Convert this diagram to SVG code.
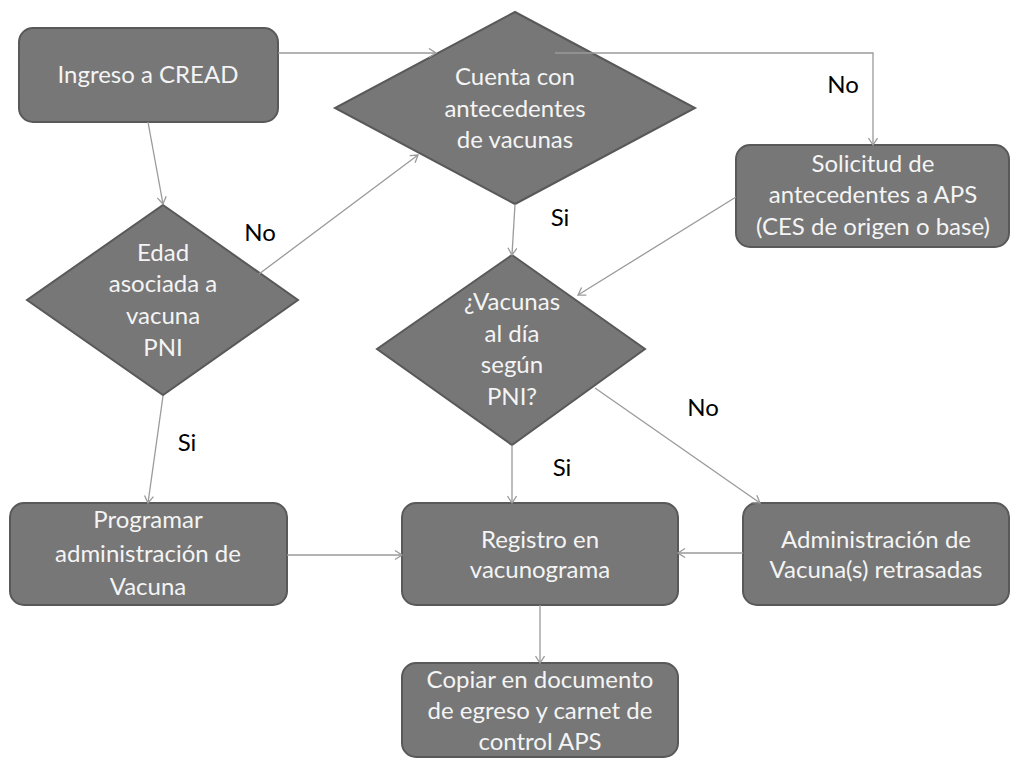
<svg xmlns="http://www.w3.org/2000/svg" width="1011" height="759" viewBox="0 0 1011 759">
<defs>
<style>
.node{fill:#777777;stroke:#595959;stroke-width:2}
.nt{font-family:Lato,"Liberation Sans",Arial,sans-serif;font-size:24px;fill:#f4f4f4;text-anchor:middle}
.lbl{font-family:Lato,"Liberation Sans",Arial,sans-serif;font-size:24px;fill:#000000;text-anchor:middle}
.conn{fill:none;stroke:#9a9a9a;stroke-width:1.3;marker-end:url(#arr)}
</style>
<marker id="arr" markerUnits="userSpaceOnUse" markerWidth="12" markerHeight="12" refX="8" refY="5" orient="auto">
<path d="M1,0.5 L8,5 L1,9.5" fill="none" stroke="#9a9a9a" stroke-width="1.3"/>
</marker>
</defs>
<rect width="1011" height="759" fill="#ffffff"/>

<g id="ingreso">
<rect class="node" x="19" y="28" width="259" height="94" rx="14"/>
<text class="nt" x="148" y="83">Ingreso a CREAD</text>
</g>

<g id="cuenta">
<polygon class="node" points="515,12 695,108 515,204 335,108"/>
<text class="nt" x="515" y="85">Cuenta con</text>
<text class="nt" x="515" y="117">antecedentes</text>
<text class="nt" x="515" y="148">de vacunas</text>
</g>

<g id="solicitud">
<rect class="node" x="736" y="145" width="273" height="102" rx="14"/>
<text class="nt" x="873" y="172">Solicitud de</text>
<text class="nt" x="873" y="203">antecedentes a APS</text>
<text class="nt" x="873" y="235">(CES de origen o base)</text>
</g>

<g id="edad">
<polygon class="node" points="163,205 298,300 163,395 27,300"/>
<text class="nt" x="163" y="261">Edad</text>
<text class="nt" x="163" y="292">asociada a</text>
<text class="nt" x="163" y="324">vacuna</text>
<text class="nt" x="163" y="356">PNI</text>
</g>

<g id="vacunas">
<polygon class="node" points="512,255 645,349 512,445 377,349"/>
<text class="nt" x="512" y="310">¿Vacunas</text>
<text class="nt" x="512" y="342">al día</text>
<text class="nt" x="512" y="373">según</text>
<text class="nt" x="512" y="405">PNI?</text>
</g>

<g id="programar">
<rect class="node" x="10" y="503" width="277" height="102" rx="14"/>
<text class="nt" x="148" y="528">Programar</text>
<text class="nt" x="148" y="562">administración de</text>
<text class="nt" x="148" y="595">Vacuna</text>
</g>

<g id="registro">
<rect class="node" x="402" y="503" width="276" height="102" rx="14"/>
<text class="nt" x="540" y="548">Registro en</text>
<text class="nt" x="540" y="578">vacunograma</text>
</g>

<g id="administracion">
<rect class="node" x="743" y="503" width="266" height="102" rx="14"/>
<text class="nt" x="876" y="548">Administración de</text>
<text class="nt" x="876" y="578">Vacuna(s) retrasadas</text>
</g>

<g id="copiar">
<rect class="node" x="402" y="663" width="276" height="94" rx="14"/>
<text class="nt" x="540" y="688">Copiar en documento</text>
<text class="nt" x="540" y="719">de egreso y carnet de</text>
<text class="nt" x="540" y="750">control APS</text>
</g>

<g id="connectors">
<path class="conn" d="M278,53 L436,53"/>
<path class="conn" d="M555,53 L873,53 L873,145"/>
<path class="conn" d="M148,122 L163,204"/>
<path class="conn" d="M259,274 L418,155"/>
<path class="conn" d="M163,396 L148,503"/>
<path class="conn" d="M515,204 L512,255"/>
<path class="conn" d="M736,197 L578,295"/>
<path class="conn" d="M512,445 L512,503"/>
<path class="conn" d="M595,388 L760,503"/>
<path class="conn" d="M287,555 L402,555"/>
<path class="conn" d="M743,553 L678,553"/>
<path class="conn" d="M540,605 L540,663"/>
</g>

<g id="labels">
<text class="lbl" x="843" y="93">No</text>
<text class="lbl" x="560" y="226">Si</text>
<text class="lbl" x="260" y="241">No</text>
<text class="lbl" x="187" y="451">Si</text>
<text class="lbl" x="703" y="416">No</text>
<text class="lbl" x="562" y="476">Si</text>
</g>
</svg>
